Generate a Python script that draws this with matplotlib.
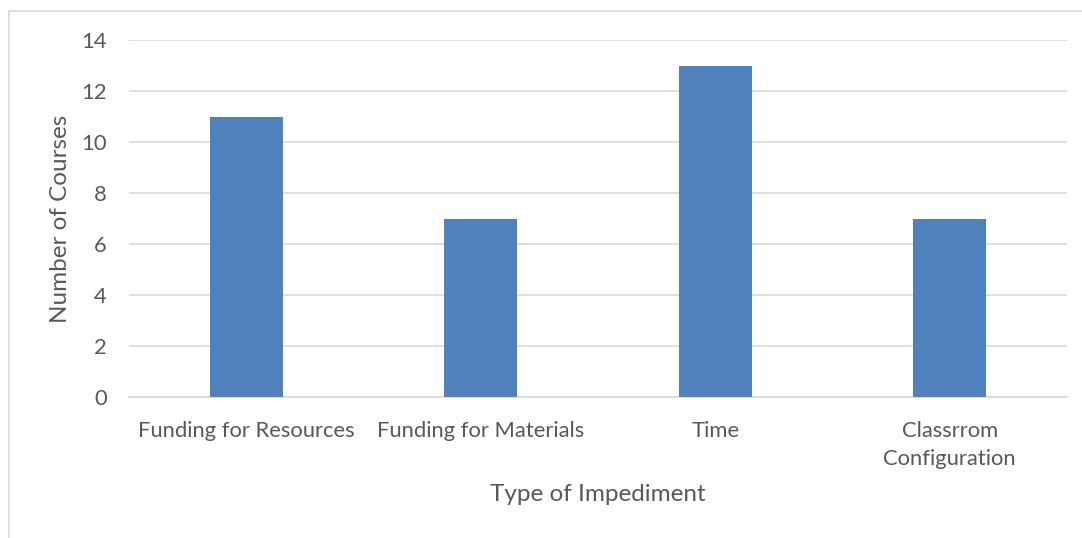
import matplotlib.pyplot as plt
from matplotlib.patches import Rectangle

categories = ['Funding for Resources', 'Funding for Materials', 'Time', 'Classrrom\nConfiguration']
courses = [11, 7, 13, 7]
y_ticks = [0, 2, 4, 6, 8, 10, 12, 14]

bar_color = '#4f81bd'
text_color = '#595959'
grid_color = '#d9d9d9'

plt.rcParams['font.family'] = ['Lato', 'DejaVu Sans']

fig = plt.figure(figsize=(10.82, 5.38), dpi=100)
ax = fig.add_axes([129 / 1082, 141 / 538, 938 / 1082, 357 / 538])

# chart area border (right/bottom edges fall off the image)
fig.patches.append(Rectangle((9 / 1082, -0.1), 1.2, (538 - 11) / 538 + 0.1,
                             transform=fig.transFigure, fill=False,
                             edgecolor=grid_color, linewidth=1.2))

x = range(len(categories))
ax.bar(x, courses, width=0.31, color=bar_color, zorder=3)

ax.set_xlim(-0.5, len(categories) - 0.5)
ax.set_ylim(0, 14)
ax.set_yticks(y_ticks)
ax.set_xticks(list(x))
ax.set_xticklabels(categories, linespacing=1.5)
ax.yaxis.grid(True, color=grid_color, linewidth=1.2, zorder=0)

for side in ['top', 'right', 'left']:
    ax.spines[side].set_visible(False)
ax.spines['bottom'].set_color(grid_color)
ax.spines['bottom'].set_linewidth(1.2)

ax.tick_params(axis='both', length=0, labelsize=15.8, labelcolor=text_color)
ax.tick_params(axis='y', pad=16)
ax.tick_params(axis='x', pad=17)

ax.set_ylabel('Number of Courses', fontsize=17.5, color=text_color, labelpad=7)
ax.set_xlabel('Type of Impediment', fontsize=17.5, color=text_color, labelpad=11)

fig.savefig('out.png', dpi=100)
